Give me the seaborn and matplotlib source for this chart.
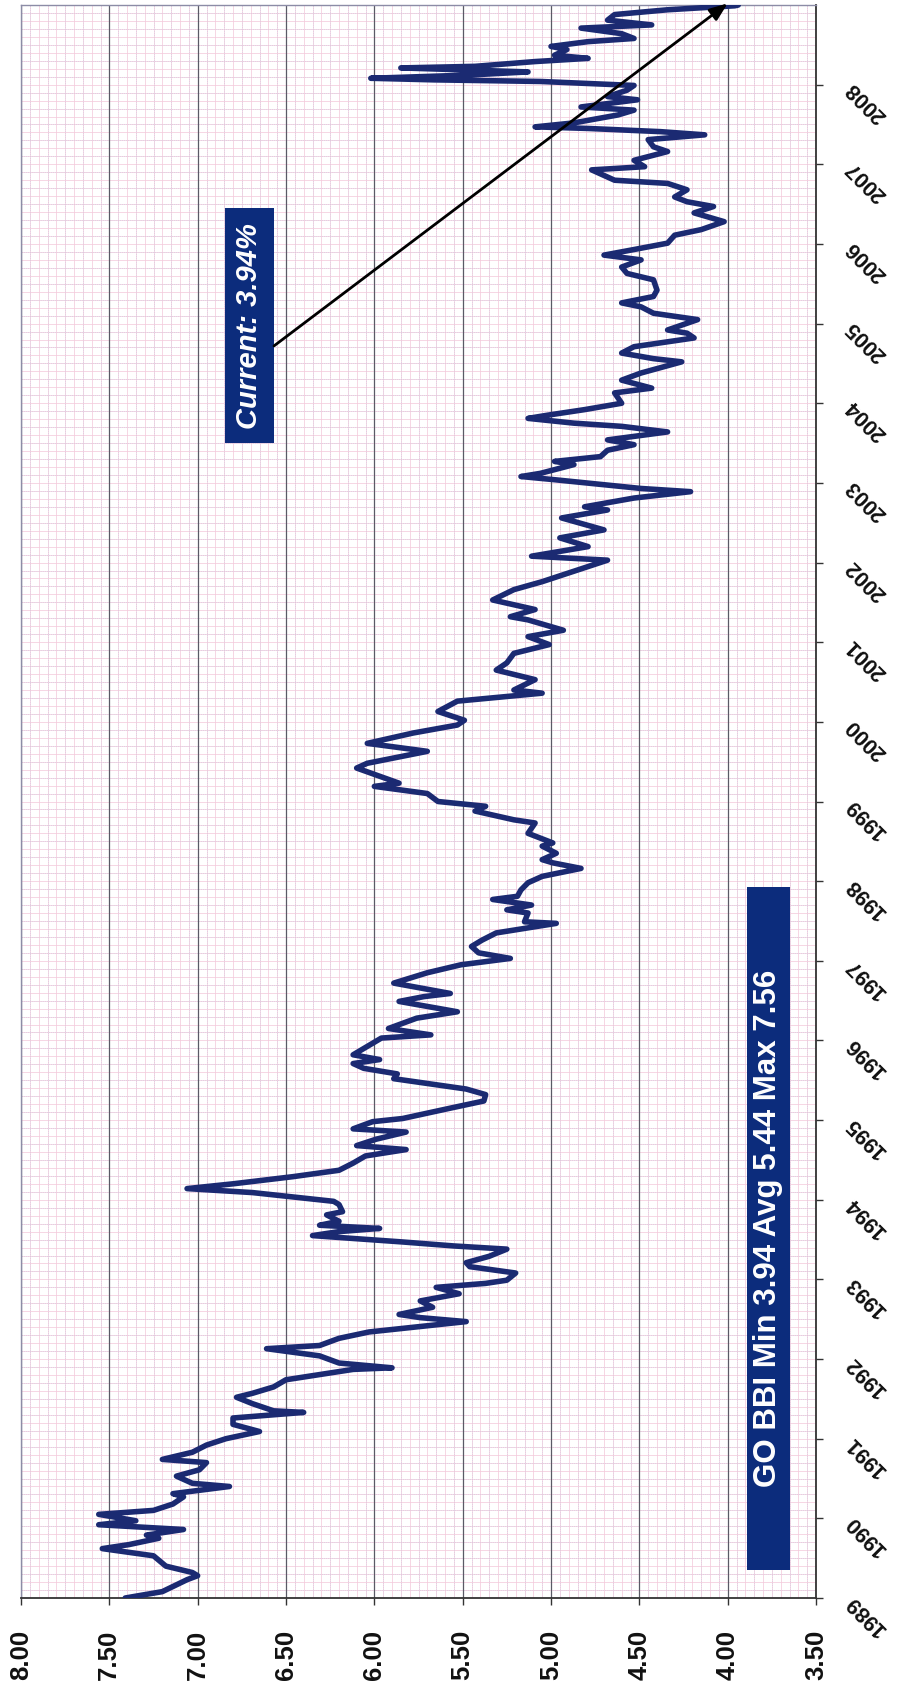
import matplotlib
matplotlib.use("Agg")
import numpy as np
import pandas as pd
import matplotlib.pyplot as plt
import seaborn as sns
from matplotlib.patches import Rectangle

# Weekly GO BBI yield (%), sampled along the chart's time scale
years = [
    1989.00, 1989.08, 1989.23, 1989.28, 1989.32, 1989.40, 1989.53, 1989.62, 1989.67, 1989.75,
    1989.79, 1989.86, 1989.92, 1989.97, 1990.05, 1990.10, 1990.18, 1990.27, 1990.31, 1990.40,
    1990.44, 1990.53, 1990.61, 1990.70, 1990.74, 1990.83, 1990.92, 1991.00, 1991.09, 1991.18,
    1991.26, 1991.33, 1991.35, 1991.44, 1991.52, 1991.57, 1991.65, 1991.74, 1991.87, 1991.89,
    1991.95, 1992.04, 1992.13, 1992.17, 1992.26, 1992.34, 1992.43, 1992.47, 1992.52, 1992.56,
    1992.65, 1992.73, 1992.82, 1992.90, 1992.95, 1992.99, 1993.08, 1993.16, 1993.21, 1993.29,
    1993.38, 1993.42, 1993.47, 1993.55, 1993.60, 1993.64, 1993.68, 1993.73, 1993.81, 1993.85,
    1993.94, 1993.98, 1994.03, 1994.09, 1994.14, 1994.20, 1994.29, 1994.37, 1994.46, 1994.55,
    1994.63, 1994.68, 1994.76, 1994.85, 1994.89, 1994.98, 1995.02, 1995.15, 1995.24, 1995.32,
    1995.39, 1995.45, 1995.52, 1995.58, 1995.65, 1995.71, 1995.76, 1995.82, 1996.03, 1996.07,
    1996.15, 1996.28, 1996.36, 1996.49, 1996.55, 1996.59, 1996.72, 1996.85, 1996.95, 1997.03,
    1997.10, 1997.18, 1997.26, 1997.35, 1997.47, 1997.49, 1997.60, 1997.64, 1997.70, 1997.77,
    1997.81, 1997.89, 1997.98, 1998.06, 1998.16, 1998.23, 1998.27, 1998.35, 1998.44, 1998.48,
    1998.60, 1998.73, 1998.77, 1998.88, 1998.94, 1999.00, 1999.10, 1999.19, 1999.23, 1999.42,
    1999.48, 1999.63, 1999.73, 1999.86, 1999.96, 2000.02, 2000.13, 2000.26, 2000.36, 2000.40,
    2000.53, 2000.65, 2000.74, 2000.86, 2000.97, 2001.07, 2001.15, 2001.28, 2001.32, 2001.41,
    2001.53, 2001.66, 2001.76, 2002.03, 2002.08, 2002.20, 2002.31, 2002.41, 2002.56, 2002.66,
    2002.70, 2002.81, 2002.89, 2002.93, 2003.04, 2003.08, 2003.12, 2003.23, 2003.27, 2003.33,
    2003.41, 2003.48, 2003.54, 2003.64, 2003.71, 2003.75, 2003.81, 2003.85, 2003.92, 2004.00,
    2004.13, 2004.19, 2004.29, 2004.38, 2004.52, 2004.56, 2004.63, 2004.71, 2004.82, 2004.88,
    2004.92, 2005.05, 2005.13, 2005.21, 2005.26, 2005.34, 2005.42, 2005.55, 2005.63, 2005.71,
    2005.80, 2005.86, 2005.93, 2006.01, 2006.11, 2006.18, 2006.28, 2006.39, 2006.47, 2006.53,
    2006.59, 2006.68, 2006.76, 2006.80, 2006.93, 2006.97, 2007.05, 2007.16, 2007.22, 2007.31,
    2007.37, 2007.41, 2007.45, 2007.47, 2007.52, 2007.62, 2007.68, 2007.72, 2007.81, 2007.85,
    2007.93, 2007.99, 2008.04, 2008.06, 2008.08, 2008.12, 2008.16, 2008.21, 2008.23, 2008.29,
    2008.33, 2008.37, 2008.44, 2008.48, 2008.54, 2008.58, 2008.64, 2008.71, 2008.75, 2008.81,
    2008.88, 2008.94, 2008.99, 2009.00,
]
yields = [
    7.41, 7.20, 7.06, 7.00, 7.03, 7.18, 7.25, 7.54, 7.39, 7.22,
    7.29, 7.08, 7.56, 7.35, 7.56, 7.25, 7.14, 7.08, 7.14, 6.82,
    7.03, 7.12, 6.99, 6.95, 7.20, 7.03, 6.95, 6.84, 6.65, 6.80,
    6.80, 6.40, 6.57, 6.69, 6.78, 6.69, 6.57, 6.50, 6.12, 5.90,
    6.20, 6.31, 6.61, 6.31, 6.20, 6.03, 5.65, 5.48, 5.74, 5.86,
    5.67, 5.74, 5.52, 5.65, 5.37, 5.25, 5.20, 5.46, 5.48, 5.35,
    5.25, 5.55, 5.84, 6.35, 6.20, 5.97, 6.31, 6.20, 6.27, 6.18,
    6.20, 6.23, 6.44, 6.69, 7.06, 6.80, 6.46, 6.20, 6.12, 6.05,
    5.82, 6.10, 5.99, 5.82, 6.12, 6.01, 5.84, 5.57, 5.38, 5.37,
    5.48, 5.67, 5.89, 5.87, 6.06, 6.12, 5.97, 6.12, 5.96, 5.68,
    5.92, 5.76, 5.53, 5.86, 5.72, 5.57, 5.89, 5.70, 5.51, 5.23,
    5.41, 5.45, 5.39, 5.31, 4.97, 5.15, 5.13, 5.25, 5.11, 5.33,
    5.19, 5.17, 5.13, 5.05, 4.83, 4.99, 5.05, 4.97, 5.05, 4.99,
    5.13, 5.09, 5.21, 5.43, 5.37, 5.64, 5.70, 6.00, 5.86, 6.10,
    6.04, 5.70, 6.04, 5.78, 5.53, 5.49, 5.64, 5.53, 5.05, 5.21,
    5.09, 5.31, 5.25, 5.21, 5.01, 5.13, 4.93, 5.13, 5.23, 5.09,
    5.33, 5.21, 5.05, 4.68, 5.11, 4.79, 4.95, 4.70, 4.94, 4.68,
    4.81, 4.53, 4.21, 4.49, 4.98, 5.17, 5.06, 4.87, 4.98, 4.72,
    4.68, 4.53, 4.68, 4.34, 4.60, 4.87, 5.13, 5.02, 4.81, 4.60,
    4.64, 4.43, 4.60, 4.49, 4.26, 4.42, 4.60, 4.53, 4.19, 4.23,
    4.34, 4.17, 4.42, 4.49, 4.60, 4.42, 4.40, 4.42, 4.57, 4.60,
    4.49, 4.70, 4.53, 4.34, 4.30, 4.15, 4.02, 4.19, 4.08, 4.23,
    4.30, 4.23, 4.34, 4.64, 4.77, 4.47, 4.53, 4.34, 4.42, 4.45,
    4.13, 4.38, 4.79, 5.09, 4.87, 4.62, 4.53, 4.83, 4.51, 4.68,
    4.57, 4.53, 5.06, 5.66, 6.02, 5.47, 5.13, 5.85, 5.43, 5.09,
    4.79, 4.98, 4.91, 5.00, 4.79, 4.53, 4.60, 4.83, 4.43, 4.68,
    4.64, 4.34, 3.96, 3.94,
]

year_ticks = list(range(1989, 2009))
year_labels = [str(y) for y in year_ticks]
rate_ticks = [8.00, 7.50, 7.00, 6.50, 6.00, 5.50, 5.00, 4.50, 4.00, 3.50]
rate_labels = [f"{r:.2f}" for r in rate_ticks]

current_label = "Current: 3.94%"
stats_label = "GO BBI Min 3.94 Avg 5.44 Max 7.56"

NAVY_LINE = "#1b2a72"
NAVY_BOX = "#0c2c7c"
PINK = "#f4cbdc"
LAVENDER = "#c9cbe3"

sns.set_theme(style="white")
plt.rcParams["font.family"] = ["Liberation Sans", "DejaVu Sans"]
plt.rcParams["font.weight"] = "bold"

fig = plt.figure(figsize=(8.97, 16.86), dpi=100)
fig.patch.set_facecolor("white")
ax = fig.add_axes([21 / 897, 88 / 1686, 795 / 897, 1593 / 1686])
ax.set_facecolor("white")

ax.set_xlim(8.0, 3.5)
ax.set_ylim(1989.0, 2009.0)

# graph-paper background
fine_x = np.arange(3.5, 8.0001, 0.05)
fine_y = np.arange(1989.0, 2009.0001, 0.1)
ax.vlines(fine_x, 1989.0, 2009.0, colors=PINK, lw=0.55, zorder=0)
ax.hlines(fine_y, 3.5, 8.0, colors=PINK, lw=0.55, zorder=0)
ax.vlines(fine_x[1::2], 1989.0, 2009.0, colors=LAVENDER, lw=0.5, linestyles=(0, (1, 2)), zorder=0)
ax.hlines(fine_y[1::2], 3.5, 8.0, colors=LAVENDER, lw=0.5, linestyles=(0, (1, 2)), zorder=0)
ax.vlines(rate_ticks, 1989.0, 2009.0, colors="#5a5a66", lw=0.9, zorder=1)

df = pd.DataFrame({"year": years, "rate": yields})
sns.lineplot(data=df, x="rate", y="year", orient="y", sort=False, estimator=None,
             color=NAVY_LINE, lw=4.0, ax=ax, zorder=3)
ax.set_xlabel("")
ax.set_ylabel("")

# value axis along the bottom
ax.set_xticks(rate_ticks)
ax.set_xticklabels(rate_labels, rotation=90, fontsize=18.5, fontweight="bold",
                   ha="center", va="top", color="#111111")
ax.tick_params(axis="x", which="major", bottom=True, top=False, length=5, width=1,
               color="#333333", pad=18, direction="out")

# time axis on the right with slanted year labels
ax.yaxis.tick_right()
ax.set_yticks(year_ticks)
ax.set_yticklabels(year_labels, rotation=135, rotation_mode="anchor", ha="right",
                   va="center", fontsize=15.5, fontweight="bold", color="#111111")
ax.tick_params(axis="y", which="major", right=True, left=False, labelright=True,
               labelleft=False, length=5, width=1, color="#333333", pad=19, direction="out")
ax.tick_params(which="minor", length=0)

for side in ("bottom", "right"):
    ax.spines[side].set_color("#333333")
    ax.spines[side].set_linewidth(1.3)
for side in ("top", "left"):
    ax.spines[side].set_color("#8c8ca6")
    ax.spines[side].set_linewidth(1.0)

# statistics box
ax.add_patch(Rectangle((3.648, 1989.35), 0.244, 8.58, facecolor=NAVY_BOX,
                       edgecolor="none", zorder=4))
ax.text(3.770, 1989.35 + 8.58 / 2, stats_label, rotation=90, ha="center", va="center",
        fontsize=22.5, fontweight="bold", color="white", zorder=5)

# current-value callout
ax.add_patch(Rectangle((6.570, 2003.50), 0.278, 2.95, facecolor=NAVY_BOX,
                       edgecolor="none", zorder=4))
ax.text(6.709, 2003.50 + 2.95 / 2, current_label, rotation=90, ha="center", va="center",
        fontsize=21, fontweight="bold", fontstyle="italic", color="white", zorder=5)
ax.annotate("", xy=(yields[-1] + 0.06, years[-1] + 0.02), xytext=(6.568, 2004.72),
            arrowprops=dict(arrowstyle="-|>,head_length=0.9,head_width=0.35",
                            color="black", lw=2.0, shrinkA=0, shrinkB=0),
            annotation_clip=False, zorder=6)

fig.savefig("out.png", dpi=100, facecolor="white")
